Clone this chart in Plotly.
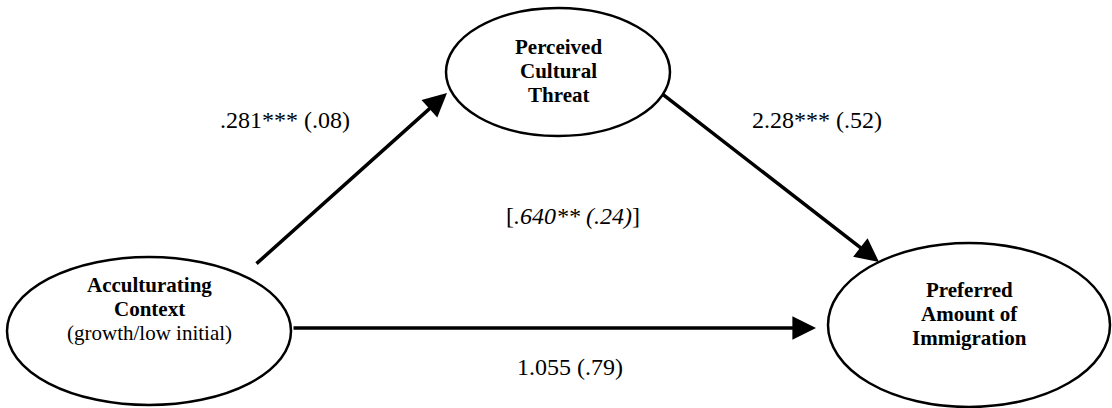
import plotly.graph_objects as go

# ---- data ----
node_names = ["Acculturating Context", "Perceived Cultural Threat", "Preferred Amount of Immigration"]
node_lines = [
    ["<b>Acculturating</b>", "<b>Context</b>", "(growth/low initial)"],
    ["<b>Perceived</b>", "<b>Cultural</b>", "<b>Threat</b>"],
    ["<b>Preferred</b>", "<b>Amount of</b>", "<b>Immigration</b>"],
]
path_from = [0, 1, 0]
path_to = [1, 2, 2]
path_labels = [".281*** (.08)", "2.28*** (.52)", "1.055 (.79)"]
indirect_label = "[<i>.640** (.24)</i>]"

# ---- layout (pixel-space geometry) ----
W, H = 1112, 408
node_box = [  # x0, x1, y0, y1
    (7, 291, 257, 405),
    (446, 670, 8, 136),
    (828, 1110, 243, 407),
]
node_text_x = [149, 558, 969]
node_text_top = [285, 47, 290]
LINE_GAP = 24
arrow_start = [(255, 265), (661, 93), (292, 328)]
arrow_tip = [(447, 93), (879, 262), (816, 328)]
path_label_pos = [(285, 120), (817, 120), (570, 367)]
indirect_pos = (573, 216)

FONT = "Liberation Serif"

fig = go.Figure()
fig.add_trace(go.Scatter(x=[0, W], y=[0, H], mode="markers",
                         marker=dict(opacity=0), hoverinfo="skip", showlegend=False))

for (x0, x1, y0, y1) in node_box:
    fig.add_shape(type="circle", xref="x", yref="y", x0=x0, x1=x1, y0=y0, y1=y1,
                  line=dict(color="black", width=2.5), fillcolor="white", layer="above")

for lines, tx, ty in zip(node_lines, node_text_x, node_text_top):
    for k, line in enumerate(lines):
        fig.add_annotation(x=tx, y=ty + k * LINE_GAP, xref="x", yref="y", text=line,
                           showarrow=False, font=dict(family=FONT, size=21, color="black"))

for i in range(len(path_from)):
    (sx, sy), (ex, ey) = arrow_start[i], arrow_tip[i]
    fig.add_annotation(x=ex, y=ey, ax=sx, ay=sy, xref="x", yref="y", axref="x", ayref="y",
                       text="", showarrow=True, arrowhead=2, arrowsize=1.35, arrowwidth=3.5,
                       arrowcolor="black", standoff=0, startstandoff=0)

for lab, (tx, ty) in zip(path_labels, path_label_pos):
    fig.add_annotation(x=tx, y=ty, xref="x", yref="y", text=lab, showarrow=False,
                       font=dict(family=FONT, size=24, color="black"))

fig.add_annotation(x=indirect_pos[0], y=indirect_pos[1], xref="x", yref="y",
                   text=indirect_label, showarrow=False,
                   font=dict(family=FONT, size=24, color="black"))

fig.update_xaxes(range=[0, W], visible=False, fixedrange=True)
fig.update_yaxes(range=[H, 0], visible=False, fixedrange=True)
fig.update_layout(width=W, height=H, margin=dict(l=0, r=0, t=0, b=0),
                  font=dict(family=FONT),
                  plot_bgcolor="white", paper_bgcolor="white", showlegend=False)

fig.write_html("out.html", config={"displayModeBar": False},
               post_script="document.body.style.margin='0';document.body.style.overflow='hidden';")
